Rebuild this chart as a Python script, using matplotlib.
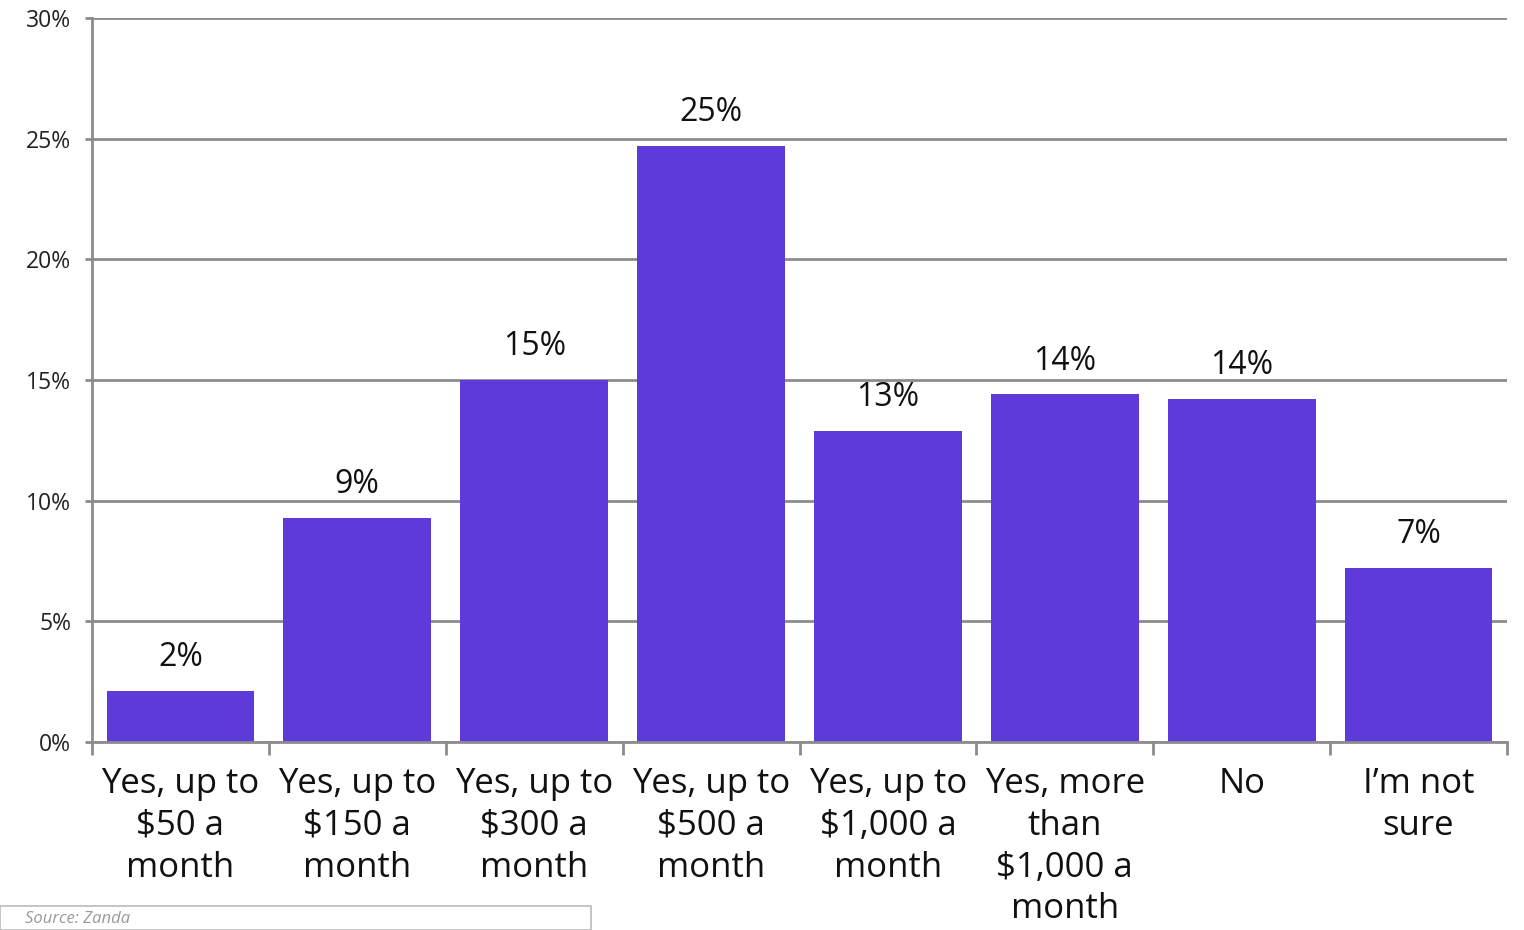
import matplotlib.pyplot as plt
from matplotlib.patches import Rectangle

categories = [
    "Yes, up to\n$50 a\nmonth",
    "Yes, up to\n$150 a\nmonth",
    "Yes, up to\n$300 a\nmonth",
    "Yes, up to\n$500 a\nmonth",
    "Yes, up to\n$1,000 a\nmonth",
    "Yes, more\nthan\n$1,000 a\nmonth",
    "No",
    "I\u2019m not\nsure",
]
shares = [2.1, 9.3, 15.0, 24.7, 12.9, 14.4, 14.2, 7.2]
yticks = [0, 5, 10, 15, 20, 25, 30]

bar_color = "#5E3BD8"
grid_color = "#8C8C8C"

plt.rcParams["font.family"] = ["Open Sans", "DejaVu Sans"]

fig = plt.figure(figsize=(15.24, 9.30), dpi=100)
ax = fig.add_axes([92 / 1524, 1 - 742 / 930, (1507 - 92) / 1524, (742 - 18) / 930])

x = list(range(len(categories)))
bars = ax.bar(x, shares, width=0.835, color=bar_color, zorder=3)

for b, v in zip(bars, shares):
    ax.text(b.get_x() + b.get_width() / 2, v + 0.7, f"{v:.0f}%",
            ha="center", va="bottom", fontsize=23, color="#111111")

ax.set_xlim(-0.5, len(categories) - 0.5)
ax.set_ylim(0, 30)
ax.set_yticks(yticks)
ax.set_yticklabels([f"{t}%" for t in yticks], fontsize=16.5, color="#222222")
ax.yaxis.grid(True, color=grid_color, linewidth=2, zorder=0)

# category labels sit between boundary ticks
ax.set_xticks([i + 0.5 for i in range(-1, len(categories))])
ax.set_xticklabels([])
ax.set_xticks(x, minor=True)
ax.set_xticklabels(categories, minor=True, fontsize=25, linespacing=1.3,
                   color="#111111", va="top")
ax.tick_params(axis="x", which="minor", length=0, pad=18)
ax.tick_params(axis="x", which="major", length=9, width=2, color=grid_color)
ax.tick_params(axis="y", length=5, width=2, color=grid_color, pad=10)

for side in ["top", "right"]:
    ax.spines[side].set_visible(False)
for side in ["left", "bottom"]:
    ax.spines[side].set_color(grid_color)
    ax.spines[side].set_linewidth(2)
    ax.spines[side].set_zorder(4)

# source note box at the bottom edge
fig.patches.append(Rectangle((0, 0), 591 / 1524, (930 - 906) / 930,
                             transform=fig.transFigure, facecolor="white",
                             edgecolor="#BBBBBB", linewidth=1.2))
fig.text(25 / 1524, 3 / 930, "Source: Zanda", fontsize=12, style="italic",
         color="#999999", va="bottom")

fig.savefig("out.png", dpi=100)
